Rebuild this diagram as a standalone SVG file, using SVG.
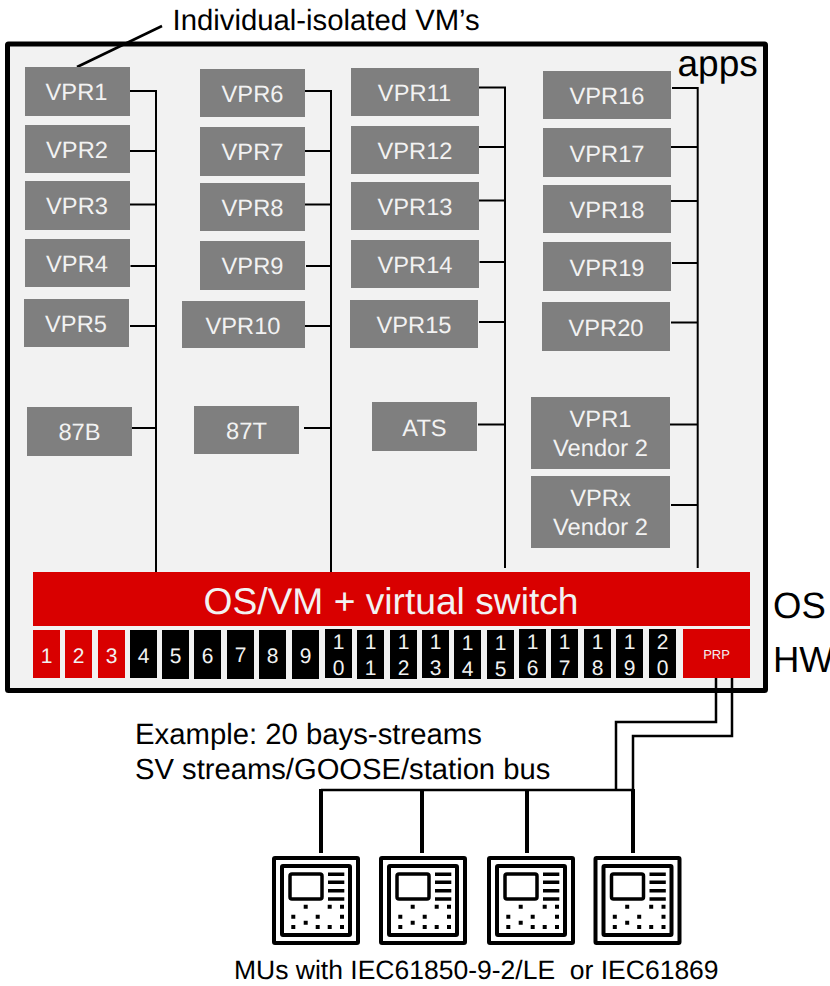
<svg xmlns="http://www.w3.org/2000/svg" width="830" height="986" viewBox="0 0 830 986">
<style>
text{font-family:"Liberation Sans",Arial,sans-serif;white-space:pre;text-rendering:geometricPrecision}
.v rect{fill:#7f7f7f}
.v text{fill:#f2f2f2;font-size:23.700px;text-anchor:middle}
.p rect{fill:#000}
.p.r rect{fill:#d90000}
.p text{fill:#f2f2f2;font-size:21px;text-anchor:middle}
.w{fill:none;stroke:#000;stroke-width:2}
.d{fill:none;stroke:#000;stroke-width:4}
.k{fill:#fff;stroke:#000;stroke-width:4;stroke-linejoin:round}
</style>
<defs>
<g id="mu">
<rect class="k" x="2" y="2" width="84" height="85" rx="1"/>
<rect class="k" x="10" y="10" width="68" height="69" rx="1"/>
<rect class="k" x="18" y="18" width="32" height="25" rx="2" style="stroke-width:3.5"/>
<path d="M56 18.3H72.3M56 26.3H72.3M56 34.7H72.3M56 43H72.3" fill="none" stroke="#000" stroke-width="3.5"/>
<path d="M31.7 48.7h4v4h-4zM55.7 48.7h4v4h-4zM68 48.7h4v4h-4zM19.3 58.7h4v4h-4zM43.7 58.7h4v4h-4zM68 58.7h4v4h-4zM31.7 64.7h4v4h-4zM19.3 69h4v4h-4zM43.7 69h4v4h-4zM55.7 69h4v4h-4zM68 69h4v4h-4z" fill="#000"/>
</g>
</defs>
<rect id="panel" x="7.5" y="44" width="758" height="646.5" rx="1" fill="#f2f2f2" stroke="#000" stroke-width="5"/>
<g id="connectors">
<path class="w" d="M130 91H156V573M129 151H156M128 204.5H156M130.5 266H156M130 326H156M129 428H156"/>
<path class="w" d="M305 91H331V573M305 151H331M303 204.5H331M306 266H331M305 326H331M304 428H331"/>
<path class="w" d="M479 87.5H505V568M478 147H505M477 200.5H505M479.500 262H505M479 322H505M478 424.500H505"/>
<path class="w" d="M672 88H697.700V568M670 147H697.700M670 201H697.700M672 263H697.700M671 322.500H697.700M670 424.500H697.700M671 505H697.700"/>
<path class="w" d="M716 678V722H616V790M732 678V736H633V790M321 790H633" style="stroke-width:2.500"/>
<path class="d" d="M321 789V853M422 789V853M527 789V853M633 789V853"/>
<path d="M77 67L162 26" fill="none" stroke="#000" stroke-width="2.500"/>
</g>
<g id="vpr1" class="v"><rect x="25" y="67" width="105" height="49"/><text x="76.500" y="100">VPR1</text></g>
<g id="vpr2" class="v"><rect x="25" y="125" width="105" height="48"/><text x="77" y="158">VPR2</text></g>
<g id="vpr3" class="v"><rect x="25" y="181" width="105" height="49"/><text x="77" y="213.500">VPR3</text></g>
<g id="vpr4" class="v"><rect x="25" y="239" width="105" height="48"/><text x="77" y="272">VPR4</text></g>
<g id="vpr5" class="v"><rect x="24" y="299" width="105" height="48"/><text x="76" y="332">VPR5</text></g>
<g id="b87" class="v"><rect x="27" y="407" width="105" height="49"/><text x="79.500" y="439.500">87B</text></g>
<g id="vpr6" class="v"><rect x="200" y="69" width="105" height="48"/><text x="252.500" y="102">VPR6</text></g>
<g id="vpr7" class="v"><rect x="200" y="127" width="105" height="49"/><text x="252.500" y="160">VPR7</text></g>
<g id="vpr8" class="v"><rect x="200" y="183" width="105" height="48"/><text x="252.500" y="215.500">VPR8</text></g>
<g id="vpr9" class="v"><rect x="200" y="241" width="105" height="49"/><text x="252.500" y="274">VPR9</text></g>
<g id="vpr10" class="v"><rect x="182" y="301" width="123" height="47"/><text x="243" y="334">VPR10</text></g>
<g id="t87" class="v"><rect x="194" y="406" width="105" height="48"/><text x="246.500" y="438.500">87T</text></g>
<g id="vpr11" class="v"><rect x="351" y="68" width="128" height="48"/><text x="414.500" y="101">VPR11</text></g>
<g id="vpr12" class="v"><rect x="351" y="126" width="128" height="48"/><text x="415" y="159">VPR12</text></g>
<g id="vpr13" class="v"><rect x="351" y="182" width="128" height="48"/><text x="415" y="215">VPR13</text></g>
<g id="vpr14" class="v"><rect x="351" y="240" width="128" height="48"/><text x="415" y="273">VPR14</text></g>
<g id="vpr15" class="v"><rect x="350" y="300" width="128" height="48"/><text x="414" y="333">VPR15</text></g>
<g id="ats" class="v"><rect x="372" y="402" width="105" height="49"/><text x="424.500" y="436">ATS</text></g>
<g id="vpr16" class="v"><rect x="543" y="71" width="128" height="48"/><text x="607" y="104">VPR16</text></g>
<g id="vpr17" class="v"><rect x="543" y="128" width="128" height="49"/><text x="607" y="161.500">VPR17</text></g>
<g id="vpr18" class="v"><rect x="543" y="185" width="128" height="48"/><text x="607" y="218">VPR18</text></g>
<g id="vpr19" class="v"><rect x="543" y="242" width="128" height="49"/><text x="607" y="276">VPR19</text></g>
<g id="vpr20" class="v"><rect x="542" y="302" width="128" height="49"/><text x="606" y="336">VPR20</text></g>
<g id="vpr1v2" class="v"><rect x="531" y="397" width="139" height="72"/><text x="600.500" y="427">VPR1</text><text x="600.500" y="456">Vendor 2</text></g>
<g id="vprxv2" class="v"><rect x="531" y="476" width="139" height="72"/><text x="600.500" y="506">VPRx</text><text x="600.500" y="535">Vendor 2</text></g>
<g id="osbar"><rect x="33" y="572" width="717" height="54" fill="#d90000"/><text x="391" y="614" font-size="37.200" fill="#f2f2f2" text-anchor="middle">OS/VM + virtual switch</text></g>
<g id="p1" class="p r"><rect x="33" y="630" width="27" height="48"/><text x="46.500" y="663">1</text></g>
<g id="p2" class="p r"><rect x="65" y="630" width="27" height="48"/><text x="78.500" y="663">2</text></g>
<g id="p3" class="p r"><rect x="98" y="630" width="27" height="48"/><text x="111.500" y="663">3</text></g>
<g id="p4" class="p"><rect x="130" y="630" width="27" height="48"/><text x="143.500" y="663">4</text></g>
<g id="p5" class="p"><rect x="162" y="630" width="27" height="49"/><text x="175.500" y="663">5</text></g>
<g id="p6" class="p"><rect x="194" y="630" width="27" height="49"/><text x="207.500" y="663">6</text></g>
<g id="p7" class="p"><rect x="227" y="630" width="27" height="49"/><text x="240.500" y="662">7</text></g>
<g id="p8" class="p"><rect x="259" y="630" width="27" height="49"/><text x="272.500" y="663">8</text></g>
<g id="p9" class="p"><rect x="292" y="630" width="27" height="49"/><text x="305.500" y="663">9</text></g>
<g id="p10" class="p"><rect x="325" y="629" width="27" height="49"/><text x="338.500" y="649">1</text><text x="338.500" y="675">0</text></g>
<g id="p11" class="p"><rect x="357" y="630" width="27" height="49"/><text x="370.500" y="649">1</text><text x="370.500" y="675">1</text></g>
<g id="p12" class="p"><rect x="390" y="630" width="27" height="49"/><text x="403.500" y="649">1</text><text x="403.500" y="675">2</text></g>
<g id="p13" class="p"><rect x="422" y="630" width="27" height="48"/><text x="435.500" y="649">1</text><text x="435.500" y="675">3</text></g>
<g id="p14" class="p"><rect x="454" y="630" width="27" height="49"/><text x="467.500" y="650">1</text><text x="467.500" y="676">4</text></g>
<g id="p15" class="p"><rect x="487" y="630" width="27" height="49"/><text x="500.500" y="650">1</text><text x="500.500" y="676">5</text></g>
<g id="p16" class="p"><rect x="519" y="629" width="27" height="49"/><text x="532.500" y="649">1</text><text x="532.500" y="675">6</text></g>
<g id="p17" class="p"><rect x="551" y="629" width="27" height="49"/><text x="564.500" y="649">1</text><text x="564.500" y="675">7</text></g>
<g id="p18" class="p"><rect x="584" y="629" width="27" height="49"/><text x="597.500" y="649">1</text><text x="597.500" y="675">8</text></g>
<g id="p19" class="p"><rect x="616" y="629" width="27" height="49"/><text x="629.500" y="649">1</text><text x="629.500" y="675">9</text></g>
<g id="p20" class="p"><rect x="649" y="629" width="27" height="49"/><text x="662.500" y="649">2</text><text x="662.500" y="675">0</text></g>
<g id="prp"><rect x="683" y="629" width="67" height="49" fill="#d90000"/><text x="716.500" y="659" font-size="13" fill="#f2f2f2" text-anchor="middle">PRP</text></g>
<g id="mu1"><use href="#mu" x="272" y="856"/></g>
<g id="mu2"><use href="#mu" x="379" y="856"/></g>
<g id="mu3"><use href="#mu" x="487" y="856"/></g>
<g id="mu4"><use href="#mu" x="593.500" y="856"/></g>
<g id="labels">
<text x="172.500" y="29.500" font-size="29.300">Individual-isolated VM’s</text>
<text x="677.500" y="75.500" font-size="37">apps</text>
<text x="773" y="618" font-size="36.500">OS</text>
<text x="773" y="672" font-size="36.500">HW</text>
<text x="135" y="743.500" font-size="29.300">Example: 20 bays-streams</text>
<text x="135" y="778.500" font-size="29.200">SV streams/GOOSE/station bus</text>
<text x="234" y="979" font-size="26.500">MUs with IEC61850-9-2/LE  or IEC61869</text>
</g>
</svg>
